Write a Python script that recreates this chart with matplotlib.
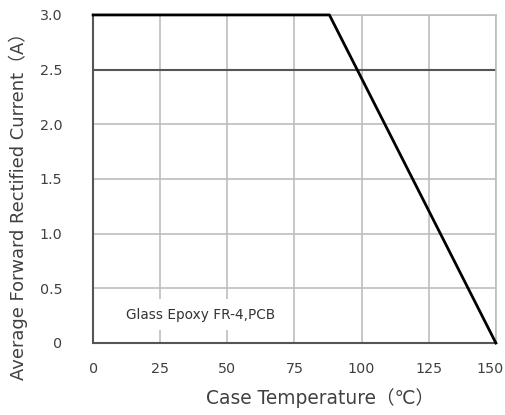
import matplotlib.pyplot as plt
import matplotlib.transforms as mtransforms

plt.rcParams['font.family'] = ['DejaVu Sans', 'Noto Sans CJK SC']

# derating curve
temp = [0, 88, 150]
current = [3.0, 3.0, 0.0]

xticks = [0, 25, 50, 75, 100, 125, 150]
yticks = [0, 0.5, 1.0, 1.5, 2.0, 2.5, 3.0]
ylabels = ['0', '0.5', '1.0', '1.5', '2.0', '2.5', '3.0']

txt = '#404040'

fig = plt.figure(figsize=(5.06, 4.15), dpi=100)
ax = fig.add_axes([0.184, 0.1735, 0.796, 0.7905])

ax.set_xlim(0, 150)
ax.set_ylim(0, 3.0)
ax.set_xticks(xticks)
ax.set_yticks(yticks)
ax.set_xticklabels([str(t) for t in xticks], color=txt, fontsize=10.3)
ax.set_yticklabels(ylabels, color=txt, fontsize=10.3)
ax.tick_params(length=0, pad=22)
ax.tick_params(axis='x', pad=14)

# last x label sits a little left so it is not cut at the edge
lbl = ax.get_xticklabels()[-1]
lbl.set_transform(lbl.get_transform() +
                  mtransforms.ScaledTranslation(-6 / 100, 0, fig.dpi_scale_trans))

# grid
for x in xticks[1:]:
    ax.axvline(x, color='#bdbdbd', lw=1.2, zorder=1)
for y in yticks[1:]:
    if y == 2.5:
        ax.axhline(y, color='#555555', lw=1.5, zorder=1)
    else:
        ax.axhline(y, color='#bdbdbd', lw=1.2, zorder=1)

for s in ['left', 'bottom']:
    ax.spines[s].set_color('#555555')
    ax.spines[s].set_linewidth(1.5)
for s in ['top', 'right']:
    ax.spines[s].set_color('#bdbdbd')
    ax.spines[s].set_linewidth(1.2)

ax.plot(temp, current, color='black', lw=2, zorder=3, clip_on=False)

ax.text(40, 0.26, 'Glass Epoxy FR-4,PCB', fontsize=9.8, color='#333333',
        ha='center', va='center', zorder=2,
        bbox=dict(facecolor='white', edgecolor='none', pad=6))

ax.set_xlabel('Case Temperature（℃）', color=txt, fontsize=13.4)
ax.set_ylabel('Average Forward Rectified Current（A）', color=txt,
              fontsize=12.9)
ax.xaxis.set_label_coords(0.563, -0.168)
ax.yaxis.set_label_coords(-0.186, 0.43)
ax.xaxis.label.set_va('center')
ax.yaxis.label.set_va('center')

fig.savefig('out.png', dpi=100)
